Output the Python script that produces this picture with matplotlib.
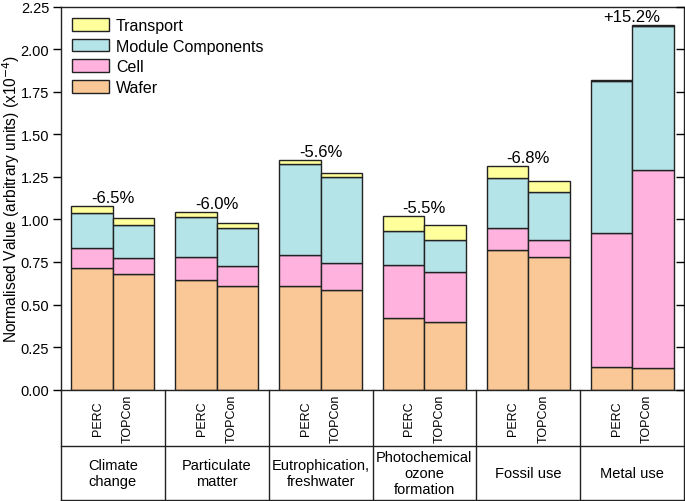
import matplotlib
matplotlib.use("Agg")
import matplotlib.pyplot as plt
from matplotlib import font_manager
from matplotlib.patches import Patch
import numpy as np

plt.rcParams['font.family'] = ['Liberation Sans', 'DejaVu Sans']

def narrow_family():
    try:
        font_manager.findfont(font_manager.FontProperties(family='Liberation Sans Narrow'),
                              fallback_to_default=False)
        return ['Liberation Sans Narrow', 'Liberation Sans']
    except Exception:
        return ['Liberation Sans', 'DejaVu Sans']

NARROW = narrow_family()

# ---------------- data ----------------
categories = ["Climate\nchange", "Particulate\nmatter", "Eutrophication,\nfreshwater",
              "Photochemical\nozone\nformation", "Fossil use", "Metal use"]
technologies = ["PERC", "TOPCon"]
components = ["Wafer", "Cell", "Module Components", "Transport"]

wafer_perc = [0.715, 0.646, 0.611, 0.420, 0.820, 0.135]
wafer_topcon = [0.682, 0.611, 0.584, 0.400, 0.779, 0.129]
cell_perc = [0.119, 0.133, 0.180, 0.312, 0.131, 0.787]
cell_topcon = [0.093, 0.118, 0.160, 0.293, 0.100, 1.160]
module_perc = [0.201, 0.235, 0.533, 0.198, 0.293, 0.891]
module_topcon = [0.194, 0.222, 0.506, 0.188, 0.281, 0.848]
transport_perc = [0.045, 0.031, 0.026, 0.091, 0.072, 0.005]
transport_topcon = [0.039, 0.029, 0.025, 0.086, 0.063, 0.004]

change_labels = ["-6.5%", "-6.0%", "-5.6%", "-5.5%", "-6.8%", "+15.2%"]

colors = {"Wafer": "#FAC896", "Cell": "#FFB2DD", "Module Components": "#B4E3E8",
          "Transport": "#FFFF9C"}
edge = "#222222"

# ---------------- figure ----------------
W, H = 685, 502
fig = plt.figure(figsize=(W / 100, H / 100), dpi=100)
ax_l, ax_r, ax_t, ax_b = 61, 684, 7.6, 390.7
ax = fig.add_axes([ax_l / W, 1 - ax_b / H, (ax_r - ax_l) / W, (ax_b - ax_t) / H])

x = np.arange(len(categories))
bw = 0.4
series = {
    "PERC": [wafer_perc, cell_perc, module_perc, transport_perc],
    "TOPCon": [wafer_topcon, cell_topcon, module_topcon, transport_topcon],
}
tops = {}
for ti, tech in enumerate(technologies):
    xpos = x - bw if ti == 0 else x
    bottom = np.zeros(len(categories))
    for comp, vals in zip(components, series[tech]):
        vals = np.array(vals)
        ax.bar(xpos, vals, width=bw, bottom=bottom, align='edge',
               color=colors[comp], edgecolor=edge, linewidth=1.0, zorder=2)
        bottom = bottom + vals
    tops[tech] = bottom

maxtop = np.maximum(tops["PERC"], tops["TOPCon"])
for xi, mt, lab in zip(x, maxtop, change_labels):
    ax.text(xi, mt + 0.022, lab, ha='center', va='baseline', fontsize=12)

ax.set_xlim(-0.5, len(categories) - 0.5)
ax.set_ylim(0, 2.25)
yt = np.arange(0, 2.26, 0.25)
ax.set_yticks(yt)
ax.set_yticklabels([f"{v:.2f}" for v in yt], fontsize=10.5)
ax.set_xticks([])
ax.tick_params(axis='y', direction='out', length=6, width=1, pad=2.5, right=False)
for s in ax.spines.values():
    s.set_linewidth(1.0)
    s.set_color(edge)
# inward ticks on right spine
axr = ax.twinx()
axr.set_ylim(ax.get_ylim())
axr.set_yticks(yt)
axr.set_yticklabels([])
axr.tick_params(axis='y', direction='in', length=6, width=1)
for s in axr.spines.values():
    s.set_visible(False)

ax.set_ylabel("Normalised Value (arbitrary units) (x10$^{-4}$)", fontsize=11.2)
ax.yaxis.set_label_coords(-0.063, 0.5)

handles = [Patch(facecolor=colors[c], edgecolor=edge, linewidth=1.0)
           for c in ["Transport", "Module Components", "Cell", "Wafer"]]
ax.legend(handles, ["Transport", "Module Components", "Cell", "Wafer"],
          loc='upper left', bbox_to_anchor=(0.0, 1.0), frameon=False, fontsize=11.5,
          handlelength=2.3, handleheight=0.85, labelspacing=0.36, handletextpad=0.45,
          borderaxespad=0.3)

# ---------------- table below ----------------
tb_t, tb_b = 390.7, 501
axt = fig.add_axes([ax_l / W, 1 - tb_b / H, (ax_r - ax_l) / W, (tb_b - tb_t) / H])
axt.set_xlim(ax.get_xlim())
axt.set_ylim(0, 1)
axt.axis('off')
sep = 0.49
lkw = dict(color=edge, linewidth=1.0, clip_on=False)
for b in np.arange(-0.5, len(categories), 1.0):
    axt.plot([b, b], [0, 1], **lkw)
axt.plot([-0.5, len(categories) - 0.5], [sep, sep], **lkw)
axt.plot([-0.5, len(categories) - 0.5], [0, 0], **lkw)

for xi, cat in zip(x, categories):
    axt.text(xi - 0.145, (1 + sep) / 2, technologies[0], rotation=90, ha='center',
             va='center', fontsize=9, family=NARROW)
    axt.text(xi + 0.145, (1 + sep) / 2, technologies[1], rotation=90, ha='center',
             va='center', fontsize=9, family=NARROW)
    axt.text(xi, sep / 2, cat, ha='center', va='center', fontsize=10.5,
             linespacing=1.2, family=NARROW)

fig.savefig("out.png", dpi=100)
